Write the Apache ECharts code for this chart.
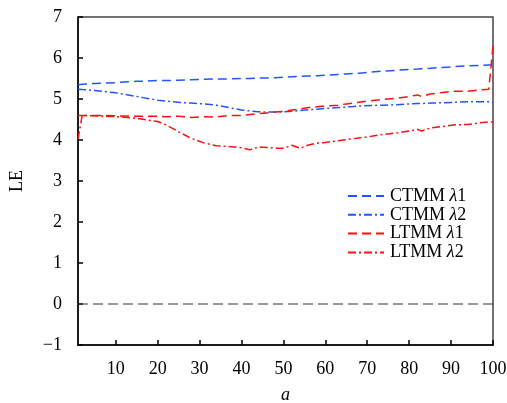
<!DOCTYPE html>
<html><head><meta charset="utf-8">
<script src="https://cdn.jsdelivr.net/npm/echarts@6/dist/echarts.min.js"></script>
<style>html,body{margin:0;padding:0;background:#fff}#c{width:507px;height:403px}</style>
</head><body><div id="c"></div>
<script>
const aValues = [1,2,5,10,15,20,22,25,28,31,34,37,40,42,44,46,48,50,52,54,56,58,60,63,65,68,71,74,77,80,82,83,85,88,91,94,97,99,100];
const ctmmL1 = [5.35,5.36,5.38,5.40,5.43,5.45,5.45,5.46,5.47,5.48,5.49,5.49,5.50,5.50,5.51,5.51,5.52,5.53,5.54,5.55,5.56,5.57,5.58,5.60,5.61,5.63,5.66,5.68,5.70,5.72,5.73,5.74,5.75,5.77,5.79,5.81,5.82,5.83,5.83];
const ctmmL2 = [5.24,5.23,5.21,5.15,5.06,4.97,4.95,4.92,4.90,4.88,4.85,4.79,4.73,4.71,4.69,4.68,4.68,4.69,4.70,4.72,4.74,4.75,4.77,4.79,4.80,4.83,4.84,4.85,4.86,4.88,4.89,4.89,4.90,4.91,4.92,4.93,4.93,4.93,4.92];
const ltmmL1 = [4.60,4.60,4.60,4.59,4.58,4.58,4.57,4.58,4.55,4.57,4.56,4.60,4.60,4.62,4.64,4.66,4.68,4.70,4.73,4.76,4.79,4.81,4.83,4.85,4.88,4.92,4.96,4.99,5.02,5.06,5.10,5.06,5.12,5.16,5.19,5.19,5.22,5.24,6.30];
const ltmmL2 = [4.02,4.60,4.59,4.57,4.53,4.45,4.37,4.20,4.04,3.93,3.86,3.84,3.81,3.76,3.83,3.82,3.80,3.80,3.87,3.80,3.88,3.92,3.94,3.98,4.01,4.05,4.09,4.14,4.17,4.22,4.26,4.22,4.29,4.33,4.37,4.38,4.42,4.44,4.44];
const xTicks = [10,20,30,40,50,60,70,80,90,100];
const seriesNames = ['CTMM λ1','CTMM λ2','LTMM λ1','LTMM λ2'];
const seriesValues = [ctmmL1, ctmmL2, ltmmL1, ltmmL2];
const colors = ['#2255ff','#2255ff','#ff1010','#ff1010'];
const dashes = [[9,5],[8,3,2,3],[9,5],[8,3,2,3]];

const font = 'Liberation Serif';
const chart = echarts.init(document.getElementById('c'));
const series = seriesNames.map((n, i) => ({
  name: n, type: 'line', symbol: 'none', showSymbol: false,
  data: aValues.map((a, j) => [a, seriesValues[i][j]]),
  lineStyle: { color: colors[i], width: 1.5, type: dashes[i] },
  itemStyle: { color: colors[i] },
  z: 3
}));
series.push({
  name: 'zero', type: 'line', symbol: 'none', silent: true, z: 2,
  data: [[1, 0], [100, 0]],
  lineStyle: { color: '#333', width: 1, type: [10, 5] }
});
chart.setOption({
  animation: false,
  backgroundColor: '#fff',
  grid: { left: 78, right: 14, top: 17, bottom: 58, show: true, borderColor: '#444', borderWidth: 1.5,
    outerBoundsMode: 'none', containLabel: false },
  xAxis: {
    type: 'value', min: 1, max: 100,
    name: 'a', nameLocation: 'middle', nameGap: 41,
    nameTextStyle: { fontFamily: font, fontSize: 18, fontStyle: 'italic', color: '#000' },
    axisLine: { onZero: false, lineStyle: { color: '#000', width: 1.5 } },
    axisTick: { inside: true, length: 5, customValues: xTicks, lineStyle: { color: '#000', width: 1.5 } },
    axisLabel: { customValues: xTicks, margin: 15, fontFamily: font, fontSize: 18, color: '#000' },
    splitLine: { show: false }
  },
  yAxis: {
    type: 'value', min: -1, max: 7, interval: 1,
    name: 'LE', nameLocation: 'middle', nameGap: 52, nameRotate: 90,
    nameTextStyle: { fontFamily: font, fontSize: 18, color: '#000' },
    axisLine: { show: true, onZero: false, lineStyle: { color: '#000', width: 1.5 } },
    axisTick: { inside: true, length: 5, lineStyle: { color: '#000', width: 1.5 } },
    axisLabel: { margin: 16, fontFamily: font, fontSize: 18, color: '#000',
      formatter: v => v < 0 ? '\u2212' + Math.abs(v) : String(v) },
    splitLine: { show: false }
  },
  legend: {
    left: 347, top: 187, orient: 'vertical', padding: 0,
    itemWidth: 36, itemHeight: 18, itemGap: 0.8,
    data: seriesNames,
    itemStyle: { opacity: 0 },
    formatter: n => n.replace('λ', '{i|λ}'),
    textStyle: { fontFamily: font, fontSize: 18, color: '#000', padding: [0, 0, 0, 1],
      rich: { i: { fontFamily: font, fontSize: 18, fontStyle: 'italic', color: '#000' } } }
  },
  series: series
});
</script></body></html>
